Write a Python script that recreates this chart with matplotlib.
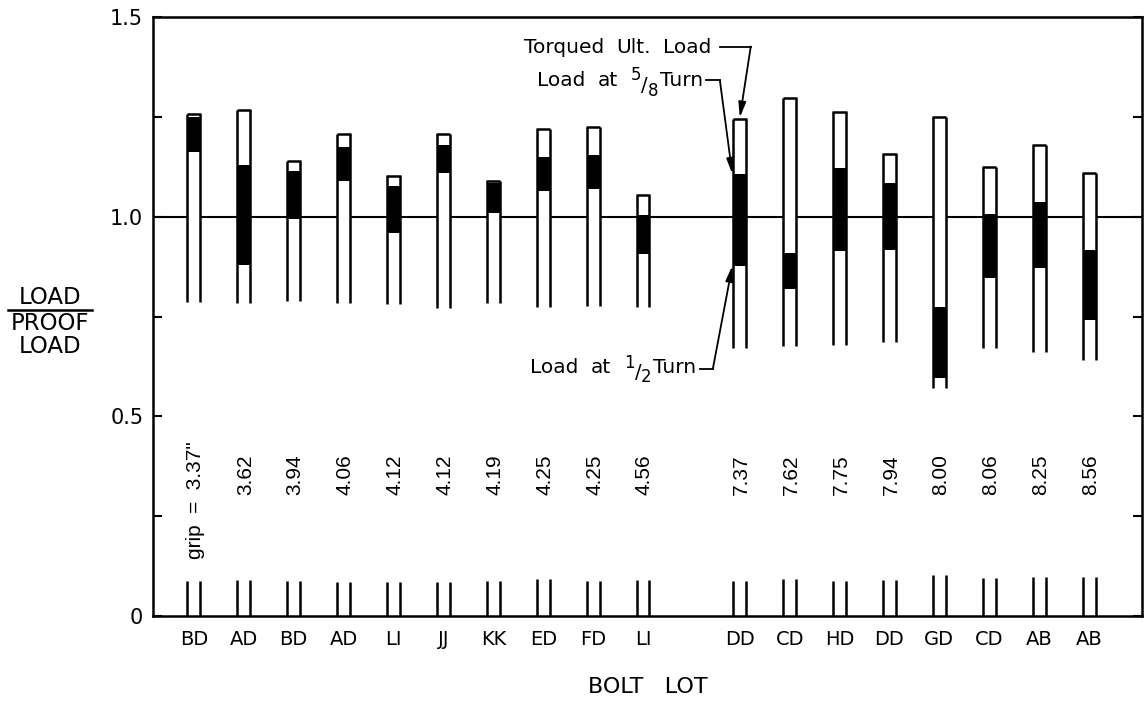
import numpy as np
import matplotlib
matplotlib.use("Agg")
import matplotlib.pyplot as plt

# ---------------- data ----------------
lots = ["BD", "AD", "BD", "AD", "LI", "JJ", "KK", "ED", "FD", "LI",
        "DD", "CD", "HD", "DD", "GD", "CD", "AB", "AB"]
grips = ["3.37", "3.62", "3.94", "4.06", "4.12", "4.12", "4.19", "4.25", "4.25", "4.56",
         "7.37", "7.62", "7.75", "7.94", "8.00", "8.06", "8.25", "8.56"]
torqued_ult = [1.256, 1.267, 1.140, 1.208, 1.103, 1.206, 1.090, 1.219, 1.224, 1.054,
               1.244, 1.297, 1.261, 1.156, 1.250, 1.124, 1.180, 1.110]
load_5_8 = [1.250, 1.129, 1.115, 1.175, 1.077, 1.180, 1.085, 1.150, 1.155, 1.005,
            1.107, 0.908, 1.121, 1.084, 0.773, 1.006, 1.036, 0.917]
load_1_2 = [1.163, 0.879, 0.994, 1.090, 0.958, 1.110, 1.008, 1.064, 1.069, 0.907,
            0.877, 0.819, 0.915, 0.917, 0.595, 0.847, 0.871, 0.741]
bar_lower = [0.787, 0.784, 0.789, 0.785, 0.781, 0.772, 0.783, 0.775, 0.776, 0.775,
             0.671, 0.676, 0.679, 0.685, 0.570, 0.670, 0.662, 0.641]
stub_top = [0.088, 0.090, 0.087, 0.086, 0.084, 0.086, 0.088, 0.092, 0.088, 0.090,
            0.088, 0.092, 0.087, 0.090, 0.103, 0.094, 0.097, 0.097]
yticks_major = [0, 0.5, 1.0, 1.5]
ytick_labels = ["0", "0.5", "1.0", "1.5"]

# ---------------- layout ----------------
plt.rcParams["font.family"] = ["DejaVu Sans"]
grip_font = ["Liberation Sans", "DejaVu Sans"]
grip_fs = 15

n = len(lots)
group_gap = 0.94
x = np.arange(n, dtype=float)
x[10:] += group_gap
w = 0.26
lw = 1.8

fig = plt.figure(figsize=(11.47, 7.05), dpi=100)
ax = fig.add_axes([0.1334, 0.1262, 0.9956 - 0.1334, 0.9759 - 0.1262])
ax.set_xlim(-0.82, 19.0)
ax.set_ylim(0, 1.5)

ax.axhline(1.0, color="black", lw=1.5, zorder=1)

ult = np.array(torqued_ult)
t58 = np.array(load_5_8)
t12 = np.array(load_1_2)
low = np.array(bar_lower)
stub = np.array(stub_top)

ax.bar(x, ult - low, bottom=low, width=w, color="white", edgecolor="none", zorder=2)
ax.bar(x, t58 - t12, bottom=t12, width=w, color="black", edgecolor="none", zorder=3)
ax.vlines(np.concatenate([x - w / 2, x + w / 2]), np.concatenate([low, low]),
          np.concatenate([ult, ult]), color="black", lw=lw, zorder=4)
ax.hlines(ult, x - w / 2 - 0.012, x + w / 2 + 0.012, color="black", lw=lw, zorder=4)
ax.vlines(np.concatenate([x - w / 2, x + w / 2]), 0, np.concatenate([stub, stub]),
          color="black", lw=lw, zorder=4)

# grip labels
for i, (xi, g) in enumerate(zip(x, grips)):
    if i == 0:
        ax.text(xi + 0.03, 0.437, 'grip  =  ' + g + '"', rotation=90, ha="center", va="top",
                fontsize=grip_fs, family=grip_font)
    else:
        ax.text(xi + 0.03, 0.405, g, rotation=90, ha="center", va="top",
                fontsize=grip_fs, family=grip_font)

# ---- annotations (DD 7.37 bar) ----
renderer = fig.canvas.get_renderer()


def piece_text(x_right, y_base, pieces):
    """pieces: (string, fontsize, dy_points, gap_before_points); right aligned at x_right."""
    arts = []
    for s, fs, dy, gap in pieces:
        arts.append(ax.annotate(s, xy=(x_right, y_base), xytext=(0, dy),
                                textcoords="offset points", ha="left", va="baseline",
                                fontsize=fs))
    widths = [a.get_window_extent(renderer).width * 72 / fig.dpi for a in arts]
    total = sum(widths) + sum(p[3] for p in pieces)
    off = -total
    for a, wd, p in zip(arts, widths, pieces):
        off += p[3]
        a.xyann = (off, p[2])
        off += wd


k = 10
xd = x[k]
ann_fs = 14.5
arrow = dict(arrowstyle="-|>,head_length=0.9,head_width=0.22", color="black",
             lw=1.3, shrinkA=0, shrinkB=0)

piece_text(10.38, 1.411, [("Torqued", ann_fs, 0, 0), ("Ult.", ann_fs, 0, 9),
                          ("Load", ann_fs, 0, 9)])
ax.plot([10.54, 11.16], [1.426, 1.426], color="black", lw=1.3)
ax.annotate("", xy=(xd, ult[k] + 0.004), xytext=(11.16, 1.426), arrowprops=arrow)

piece_text(10.20, 1.327, [("Load", ann_fs, 0, 0), ("at", ann_fs, 0, 9),
                          ("5", 12, 4.3, 9), ("/", 14, -3.5, 0), ("8", 12, -7.5, 0),
                          ("Turn", ann_fs, 0, 1)])
ax.plot([10.26, 10.54], [1.342, 1.342], color="black", lw=1.3)
ax.annotate("", xy=(xd - w / 2 - 0.02, t58[k]), xytext=(10.54, 1.342), arrowprops=arrow)

piece_text(10.07, 0.609, [("Load", ann_fs, 0, 0), ("at", ann_fs, 0, 9),
                          ("1", 12, 3.4, 9), ("/", 14, -3.5, 0), ("2", 12, -6.7, 0),
                          ("Turn", ann_fs, 0, 1)])
ax.plot([10.14, 10.40], [0.619, 0.619], color="black", lw=1.3)
ax.annotate("", xy=(xd - w / 2 - 0.02, t12[k]), xytext=(10.40, 0.619), arrowprops=arrow)

# axes styling
for s in ax.spines.values():
    s.set_linewidth(1.8)
ax.set_xticks(x)
ax.set_xticklabels(lots, fontsize=14)
ax.tick_params(axis="x", length=0, pad=10)
ax.set_yticks(yticks_major)
ax.set_yticklabels(ytick_labels, fontsize=15)
ax.set_yticks([0.25, 0.75, 1.25], minor=True)
ax.tick_params(axis="y", which="both", direction="in", length=6.5, width=1.5,
               left=True, right=True, pad=7)

ax.set_xlabel("BOLT   LOT", fontsize=16, labelpad=20)

# y label as fraction
fig.text(50 / 1147, 1 - 297 / 705, "LOAD", ha="center", va="center", fontsize=16.5)
fig.add_artist(plt.Line2D([8 / 1147, 92 / 1147], [1 - 310 / 705, 1 - 310 / 705],
                          color="black", lw=1.8))
fig.text(50 / 1147, 1 - 324 / 705, "PROOF", ha="center", va="center", fontsize=16.5)
fig.text(50 / 1147, 1 - 346 / 705, "LOAD", ha="center", va="center", fontsize=16.5)

fig.savefig("out.png", dpi=100)
